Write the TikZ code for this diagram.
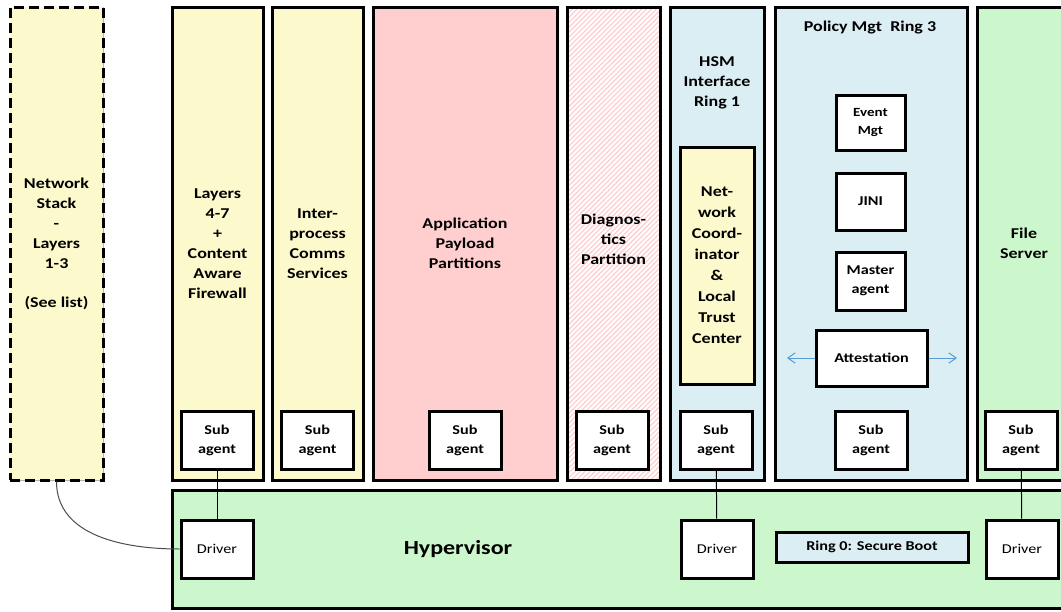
\documentclass[tikz,border=0pt]{standalone}
\usepackage{fontspec}
\setmainfont{Carlito}[FakeStretch=1.2]
\usetikzlibrary{arrows.meta,patterns.meta}
\definecolor{partyellow}{RGB}{252,249,204}
\definecolor{partpink}{RGB}{255,207,207}
\definecolor{partblue}{RGB}{219,238,244}
\definecolor{partgreen}{RGB}{204,247,204}
\definecolor{arrowblue}{RGB}{91,155,213}
\newcommand\partfont{\fontsize{15}{20}\selectfont\bfseries}
\newcommand\subfont{\fontsize{13.5}{19.5}\selectfont\bfseries}
\tikzset{
  part/.style={draw,line width=3pt,minimum width=#1,minimum height=473pt,
    inner sep=0pt,align=center,font=\partfont},
  sub/.style={draw,fill=white,line width=3pt,minimum width=72pt,
    minimum height=58pt,inner sep=0pt,align=center,font=\subfont},
  wire/.style={line width=1pt}
}
\def\SA#1#2{\node[sub] (#1) at (#2,440.5) {Sub\\agent};}
\def\DRV#1#2{\node[sub] (#1) at (#2,549) {\mdseries Driver};}

\begin{document}
\begin{tikzpicture}[x=1pt,y=-1pt]
\useasboundingbox (0,0) rectangle (1061,611);
\fill[white] (0,0) rectangle (1061,611);
% network stack outside the hypervisor
\node[part=93pt,fill=partyellow,dash pattern=on 10pt off 5pt,
  preaction={draw=black!30,line width=.6pt,solid}]
  (net) at (56.5,243.5) {Network\\Stack\\-\\Layers\\1-3\\[19pt](See list)};
% partitions
\node[part=91pt,fill=partyellow] (fw) at (217.5,243.5)
  {Layers\\4-7\\+\\Content\\Aware\\Firewall};
\node[part=91pt,fill=partyellow] (ipc) at (317.5,243.5)
  {Inter-\\process\\Comms\\Services};
\node[part=184pt,fill=partpink] (app) at (465,243.5)
  {Application\\Payload\\Partitions};
\node[part=93pt,pattern={Lines[angle=45,distance=3.5pt,line width=1.3pt]},
  pattern color=partpink] (diag) at (613.5,243.5) {};
\node[font=\partfont,align=center] at (613.5,239) {Diagnos-\\tics\\Partition};
\node[part=94pt,fill=partblue] (hsm) at (717,243.5) {};
\node[font=\partfont,align=center] at (717,83) {HSM\\Interface\\Ring 1};
\node[draw,fill=partyellow,line width=3pt,minimum width=74pt,minimum height=237pt,
  inner sep=0pt,align=center,font=\fontsize{15}{21}\selectfont\bfseries] (trust) at (717,265.5)
  {Net-\\work\\Coord-\\inator\\\&\\Local\\Trust\\Center};
\node[part=192pt,fill=partblue] (pol) at (871,243.5) {};
\node[font=\partfont] at (870,28) {Policy Mgt\ \ Ring 3};
\node[part=94pt,fill=partgreen] (fs) at (1024,243.5) {File\\Server};
% policy services
\node[sub,minimum width=69pt,minimum height=55pt,font=\fontsize{12.5}{18}\selectfont\bfseries]
  (evt) at (870.5,122.5) {Event\\Mgt};
\node[sub,minimum width=69pt,minimum height=57pt] (jini) at (870.5,201.5) {JINI};
\node[sub,minimum width=69pt] (mst) at (870.5,281) {Master\\agent};
\node[sub,minimum width=111pt,minimum height=56pt] (att) at (871.5,358) {Attestation};
\coordinate (attw) at (787,358);
\coordinate (atte) at (957,358);
\draw[arrowblue,line width=1pt,-{Straight Barb[angle=70:9pt]}] (att.west) -- (attw);
\draw[arrowblue,line width=1pt,-{Straight Barb[angle=70:9pt]}] (att.east) -- (atte);
% sub agents
\SA{sa1}{217} \SA{sa2}{317.5} \SA{sa3}{465} \SA{sa4}{612}
\SA{sa5}{716} \SA{sa6}{871} \SA{sa7}{1021}
% hypervisor
\node[draw,fill=partgreen,line width=3pt,minimum width=903pt,minimum height=118pt,
  inner sep=0pt] (hyp) at (623.5,549) {};
\node[font=\fontsize{20}{22}\selectfont\bfseries] at (458,549) {Hypervisor};
\DRV{d1}{217} \DRV{d2}{717} \DRV{d3}{1022}
\node[draw,fill=partblue,line width=3pt,minimum width=192pt,minimum height=30pt,
  inner sep=0pt,font=\subfont] (ring) at (872,547) {Ring 0: Secure Boot};
\draw[wire] (sa1) -- (d1);
\draw[wire] (sa5) -- (d2);
\draw[wire] (sa7) -- (d3);
\draw[black!70,line width=1pt] (net.south) to[out=-90,in=180] (d1.west);
\end{tikzpicture}
\end{document}
